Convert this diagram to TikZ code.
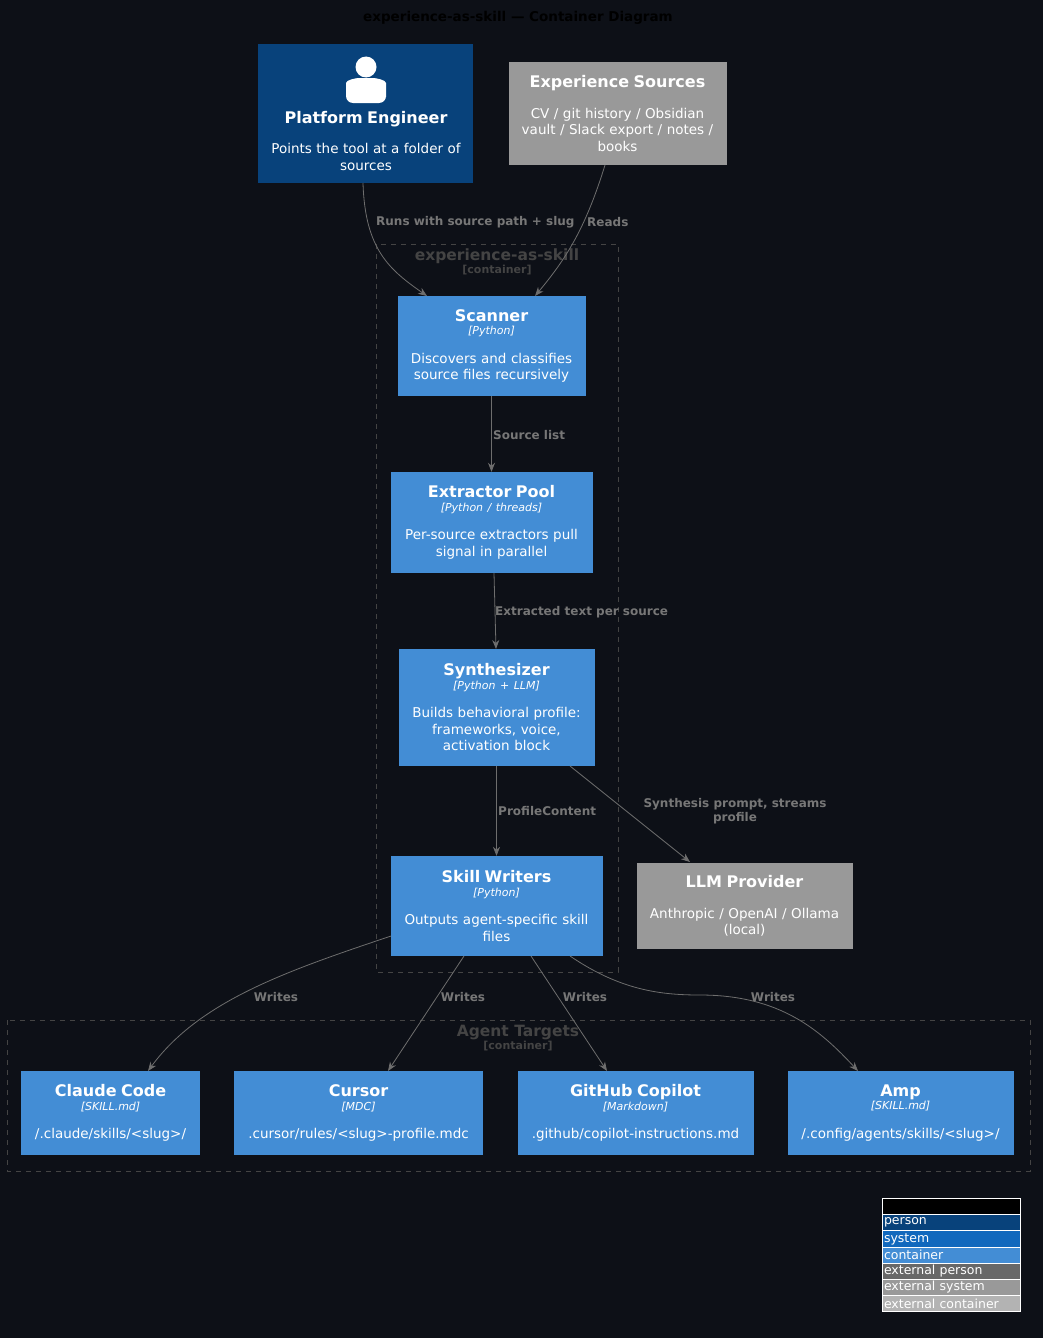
\documentclass[tikz,border=0pt]{standalone}
\usepackage{fontspec}
\setmainfont{DejaVu Sans}
\usetikzlibrary{arrows.meta}
\definecolor{bg}{HTML}{0D1017}
\definecolor{pers}{HTML}{08427B}
\definecolor{syst}{HTML}{1168BD}
\definecolor{cont}{HTML}{438DD5}
\definecolor{ext}{HTML}{999999}
\definecolor{extp}{HTML}{686868}
\definecolor{extc}{HTML}{B3B3B3}
\definecolor{edge}{HTML}{6E6E6E}
\definecolor{lbl}{HTML}{777777}
\definecolor{bnd}{HTML}{444444}
\tikzset{
 box/.style={draw=none,inner sep=2pt,text=white,align=center,font=\fontsize{13.5}{16.5}\selectfont},
 rel/.style={draw=edge,-{Stealth[length=9pt,width=7pt]},line width=0.8pt},
 elab/.style={text=lbl,font=\bfseries\fontsize{12}{14}\selectfont,align=center,inner sep=1pt},
 bound/.style={draw=bnd,dash pattern=on 5pt off 5pt,line width=0.8pt},
 blab/.style={text=bnd,align=center},
 leg/.style={minimum width=138pt,minimum height=16.2pt,inner sep=0pt,text width=134pt,align=left,font=\fontsize{12.5}{13}\selectfont,draw=white,line width=0.8pt}
}
\newcommand{\tech}[1]{{\itshape\fontsize{11}{13}\selectfont [#1]}}
\newcommand{\ttl}[1]{{\bfseries\fontsize{16}{19}\selectfont #1}}
\begin{document}
\begin{tikzpicture}[x=1pt,y=-1pt]
\fill[bg] (0,0) rectangle (1043,1338);
\useasboundingbox (0,0) rectangle (1043,1338);
\node[font=\bfseries\fontsize{13.5}{16}\selectfont,text=black] (title) at (518,18) {experience-as-skill — Container Diagram};
% boundaries
\draw[bound] (376,244) rectangle (618,972);
\node[blab] (b1) at (497,262) {{\bfseries\fontsize{15.5}{17}\selectfont experience-as-skill}\\[1pt]{\bfseries\fontsize{11}{12}\selectfont [container]}};
\draw[bound] (7,1020) rectangle (1030,1171);
\node[blab] (b2) at (518,1038) {{\bfseries\fontsize{15.5}{17}\selectfont Agent Targets}\\[1pt]{\bfseries\fontsize{11}{12}\selectfont [container]}};
% person
\node[box,fill=pers,minimum width=215pt,minimum height=139pt] (pe) at (365.5,113.5) {};
\fill[white] (366,67) circle (10.5);
\fill[white,rounded corners=7pt] (346,103) -- (346,90) .. controls (346,80) and (356,78) .. (366,78) .. controls (376,78) and (386,80) .. (386,90) -- (386,103) -- cycle;
\node[box,text width=212pt] (pet) at (366,141) {\ttl{Platform Engineer}\\[14pt]Points the tool at a folder of\\sources};
% sources
\node[box,fill=ext,minimum width=217pt,minimum height=103pt,text width=214pt] (src) at (617.5,113.5) {\ttl{Experience Sources}\\[14pt]CV / git history / Obsidian\\vault / Slack export / notes /\\books};
% containers
\node[box,fill=cont,minimum width=187pt,minimum height=100pt,text width=184pt] (scan) at (491.5,346) {\ttl{Scanner}\\[-3pt]\tech{Python}\\[12pt]Discovers and classifies\\source files recursively};
\node[box,fill=cont,minimum width=201pt,minimum height=101pt,text width=198pt] (ext) at (491.5,522.5) {\ttl{Extractor Pool}\\[-3pt]\tech{Python / threads}\\[12pt]Per-source extractors pull\\signal in parallel};
\node[box,fill=cont,minimum width=195pt,minimum height=117pt,text width=192pt] (syn) at (496.5,707.5) {\ttl{Synthesizer}\\[-3pt]\tech{Python + LLM}\\[12pt]Builds behavioral profile:\\frameworks, voice,\\activation block};
\node[box,fill=cont,minimum width=211pt,minimum height=100pt,text width=208pt] (sw) at (496.5,906) {\ttl{Skill Writers}\\[-3pt]\tech{Python}\\[12pt]Outputs agent-specific skill\\files};
\node[box,fill=ext,minimum width=215pt,minimum height=86pt,text width=212pt] (llm) at (744.5,906) {\ttl{LLM Provider}\\[14pt]Anthropic / OpenAI / Ollama\\(local)};
% targets
\node[box,fill=cont,minimum width=177pt,minimum height=84pt,text width=175pt] (cc) at (110.5,1113) {\ttl{Claude Code}\\[-3pt]\tech{SKILL.md}\\[12pt]/.claude/skills/<slug>/};
\node[box,fill=cont,minimum width=249pt,minimum height=84pt,text width=245pt] (cur) at (358.5,1113) {\ttl{Cursor}\\[-3pt]\tech{MDC}\\[12pt].cursor/rules/<slug>-profile.mdc};
\node[box,fill=cont,minimum width=235pt,minimum height=84pt,text width=232pt] (gh) at (635.5,1113) {\ttl{GitHub Copilot}\\[-3pt]\tech{Markdown}\\[12pt].github/copilot-instructions.md};
\node[box,fill=cont,minimum width=225pt,minimum height=84pt,text width=222pt] (amp) at (900.5,1113) {\ttl{Amp}\\[-3pt]\tech{SKILL.md}\\[12pt]/.config/agents/skills/<slug>/};
% edges
\coordinate (peb) at (363,183);
\coordinate (srcb) at (605,165);
\draw[rel] (peb) .. controls (365,250) and (390,270) .. (427,296);
\draw[rel] (srcb) .. controls (585,230) and (565,260) .. (535,296);
\node[elab,anchor=west] (l1) at (375,222) {Runs with source path + slug};
\node[elab,anchor=west] (l2) at (586,222) {Reads};
\draw[rel] (scan.south) -- (ext.north);
\node[elab,anchor=west] (l3) at (492,435) {Source list};
\draw[rel] (494,573) -- (496,649);
\node[elab,anchor=west] (l4) at (494,612) {Extracted text per source};
\draw[rel] (syn.south) -- (sw.north);
\node[elab,anchor=west] (l5) at (497,811) {ProfileContent};
\draw[rel] (570,766) -- (690,862);
\node[elab] (l6) at (735,811) {Synthesis prompt, streams\\profile};
\draw[rel] (391,936) .. controls (290,970) and (200,1000) .. (148,1071);
\node[elab] (l7) at (276,997) {Writes};
\draw[rel] (464,956) -- (388,1071);
\node[elab] (l8) at (463,997) {Writes};
\draw[rel] (531,956) -- (607,1071);
\node[elab] (l9) at (585,997) {Writes};
\draw[rel] (570,956) .. controls (620,990) and (660,995) .. (700,995) .. controls (780,995) and (820,1030) .. (858,1071);
\node[elab] (l10) at (773,997) {Writes};
% legend
\node[leg,fill=black,text=black,font=\bfseries\fontsize{12.5}{13}\selectfont] (lg0) at (951,1206.5) {Legend};
\node[leg,fill=pers,text=white] (lg1) at (951,1222.7) {person};
\node[leg,fill=syst,text=white] (lg2) at (951,1238.9) {system};
\node[leg,fill=cont,text=white] (lg3) at (951,1255.1) {container};
\node[leg,fill=extp,text=white] (lg4) at (951,1271.3) {external person};
\node[leg,fill=ext,text=white] (lg5) at (951,1287.5) {external system};
\node[leg,fill=extc,text=white] (lg6) at (951,1303.7) {external container};
\end{tikzpicture}
\end{document}
